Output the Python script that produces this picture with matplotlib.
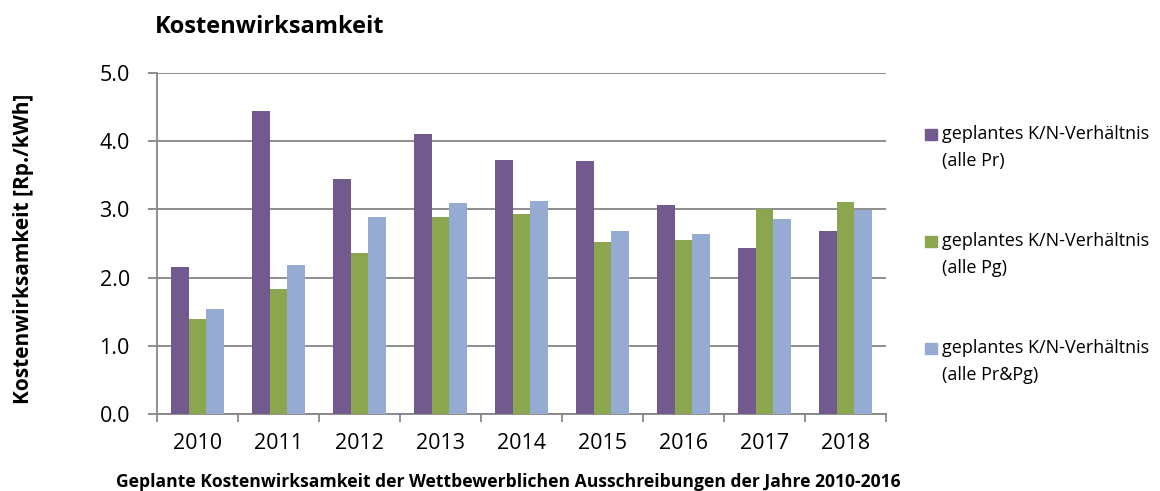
import matplotlib
matplotlib.use("Agg")
import matplotlib.pyplot as plt
from matplotlib.patches import Rectangle
import numpy as np

years = ["2010", "2011", "2012", "2013", "2014", "2015", "2016", "2017", "2018"]
series_labels = ["geplantes K/N-Verhältnis\n(alle Pr)",
                 "geplantes K/N-Verhältnis\n(alle Pg)",
                 "geplantes K/N-Verhältnis\n(alle Pr&Pg)"]
pr = [2.15, 4.44, 3.44, 4.10, 3.73, 3.71, 3.06, 2.43, 2.69]
pg = [1.40, 1.84, 2.36, 2.89, 2.93, 2.52, 2.55, 3.00, 3.11]
prpg = [1.54, 2.19, 2.89, 3.10, 3.12, 2.69, 2.64, 2.86, 2.99]
yticks = [0.0, 1.0, 2.0, 3.0, 4.0, 5.0]
title = "Kostenwirksamkeit"
ylabel = "Kostenwirksamkeit [Rp./kWh]"
xlabel = "Geplante Kostenwirksamkeit der Wettbewerblichen Ausschreibungen der Jahre 2010-2016"

colors = ["#725A8E", "#8CA54F", "#95ABD1"]
grid_c = "#868686"
plt.rcParams['font.family'] = ['Open Sans', 'DejaVu Sans']

W, H = 1160, 491
fig = plt.figure(figsize=(W / 100, H / 100), dpi=100)
ax = fig.add_axes([157 / W, 1 - 414 / H, (886 - 157) / W, (414 - 73) / H])

x = np.arange(len(years))
bw = 0.2185
for i, (vals, c) in enumerate(zip([pr, pg, prpg], colors)):
    ax.bar(x + (i - 1) * bw, vals, width=bw, color=c, zorder=3, linewidth=0)

ax.set_xlim(-0.5, len(years) - 0.5)
ax.set_ylim(0, 5)
ax.set_yticks(yticks)
ax.set_yticklabels([f"{v:.1f}" for v in yticks])
ax.yaxis.grid(True, color=grid_c, linewidth=1.3, zorder=0)
ax.set_axisbelow(True)

ax.set_xticks(np.arange(-0.5, len(years), 1.0))
ax.set_xticklabels([])
ax.set_xticks(x, minor=True)
ax.set_xticklabels(years, minor=True)
ax.tick_params(axis='x', which='major', length=5.8, width=1.3, color=grid_c, direction='out')
ax.tick_params(axis='x', which='minor', length=0, pad=14, labelsize=15.5)
ax.tick_params(axis='y', length=6.5, width=1.3, color=grid_c, direction='out', labelsize=15.5, pad=13)

for s in ['top', 'right']:
    ax.spines[s].set_visible(False)
for s in ['left', 'bottom']:
    ax.spines[s].set_color(grid_c)
    ax.spines[s].set_linewidth(1.3)

fig.text(155 / W, 1 - 27 / H, title, fontsize=17, fontweight='bold', ha='left', va='center')
fig.text(24 / W, 1 - 249 / H, ylabel, fontsize=15, fontweight='bold', rotation=90, ha='center', va='center')
fig.text(508 / W, 1 - 482 / H, xlabel, fontsize=12.6, fontweight='bold', ha='center', va='center')

entry_y = [134, 241, 348]
for lab, c, yy in zip(series_labels, colors, entry_y):
    fig.patches.append(Rectangle((925 / W, 1 - (yy + 5.5) / H), 12 / W, 11 / H,
                                 transform=fig.transFigure, color=c, figure=fig))
    lines = lab.split("\n")
    for k, ln in enumerate(lines):
        fig.text(942 / W, 1 - (yy + 27 * k) / H, ln, fontsize=13, ha='left', va='center')

fig.savefig("out.png", dpi=100)
